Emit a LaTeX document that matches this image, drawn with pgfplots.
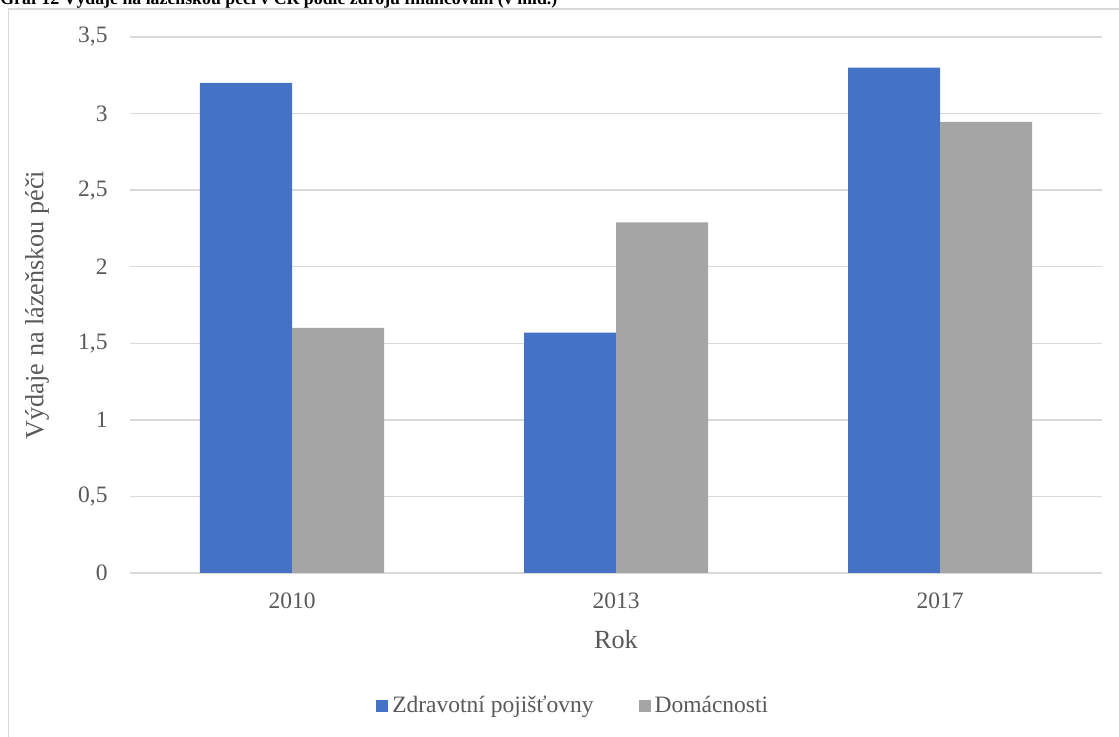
\documentclass[border=0pt]{standalone}
\usepackage{pgfplots}
\pgfplotsset{compat=1.18}
\usepackage{fontspec}
\setmainfont{Liberation Serif}
\definecolor{zblue}{HTML}{4472C4}
\definecolor{zgrey}{HTML}{A5A5A5}
\definecolor{gridc}{HTML}{D9D9D9}
\definecolor{txt}{HTML}{595959}
\begin{document}
\begin{tikzpicture}
\useasboundingbox (0,0) rectangle (559.5pt,368.5pt);
\draw[gridc, line width=0.75pt] (4.25pt,364pt) rectangle (575pt,-10pt);
\node[anchor=base west, inner sep=0pt, font=\fontsize{8.9}{10}\selectfont\bfseries] at (0pt,366pt) {Graf 12 Výdaje na lázeňskou péči v ČR podle zdroju financování (v mld.)};
\begin{axis}[
  at={(65pt,82pt)}, anchor=south west,
  scale only axis, width=486pt, height=268pt,
  xmin=-0.5, xmax=2.5, ymin=0, ymax=3.5,
  ybar=0pt, bar width=46pt,
  axis line style={draw=none},
  major tick length=0pt,
  ymajorgrids, grid style={gridc, line width=0.75pt},
  xtick={0,1,2}, xticklabels={2010,2013,2017},
  ytick={0,0.5,1,1.5,2,2.5,3,3.5},
  /pgf/number format/assume math mode=true,
  yticklabel style={/pgf/number format/.cd, use comma, fixed, /tikz/.cd, anchor=east, inner sep=0pt, xshift=-11pt},
  xticklabel style={anchor=north, inner sep=0pt, yshift=-9.5pt},
  tick label style={font=\fontsize{11.75}{14}\selectfont, text=txt},
  xlabel={Rok}, ylabel={Výdaje na lázeňskou péči},
  label style={font=\fontsize{13.1}{15}\selectfont, text=txt},
  xlabel style={at={(axis description cs:0.5,-0.125)}, anchor=center},
  ylabel style={at={(axis description cs:-0.0957,0.5)}, anchor=center},
  legend image code/.code={\fill[#1] (0pt,-3pt) rectangle (6pt,3pt);},
  legend style={at={(axis description cs:0.457,-0.248)}, anchor=center, draw=none, fill=none,
    legend columns=2, font=\fontsize{11.75}{14}\selectfont, text=txt, inner sep=0pt,
    /tikz/every even column/.append style={column sep=20.5pt}},
]
\addplot[fill=zblue, draw=none] coordinates {(0,3.2) (1,1.57) (2,3.3)};
\addplot[fill=zgrey, draw=none] coordinates {(0,1.6) (1,2.29) (2,2.945)};
\legend{Zdravotní pojišťovny, Domácnosti}
\end{axis}
\end{tikzpicture}
\end{document}
